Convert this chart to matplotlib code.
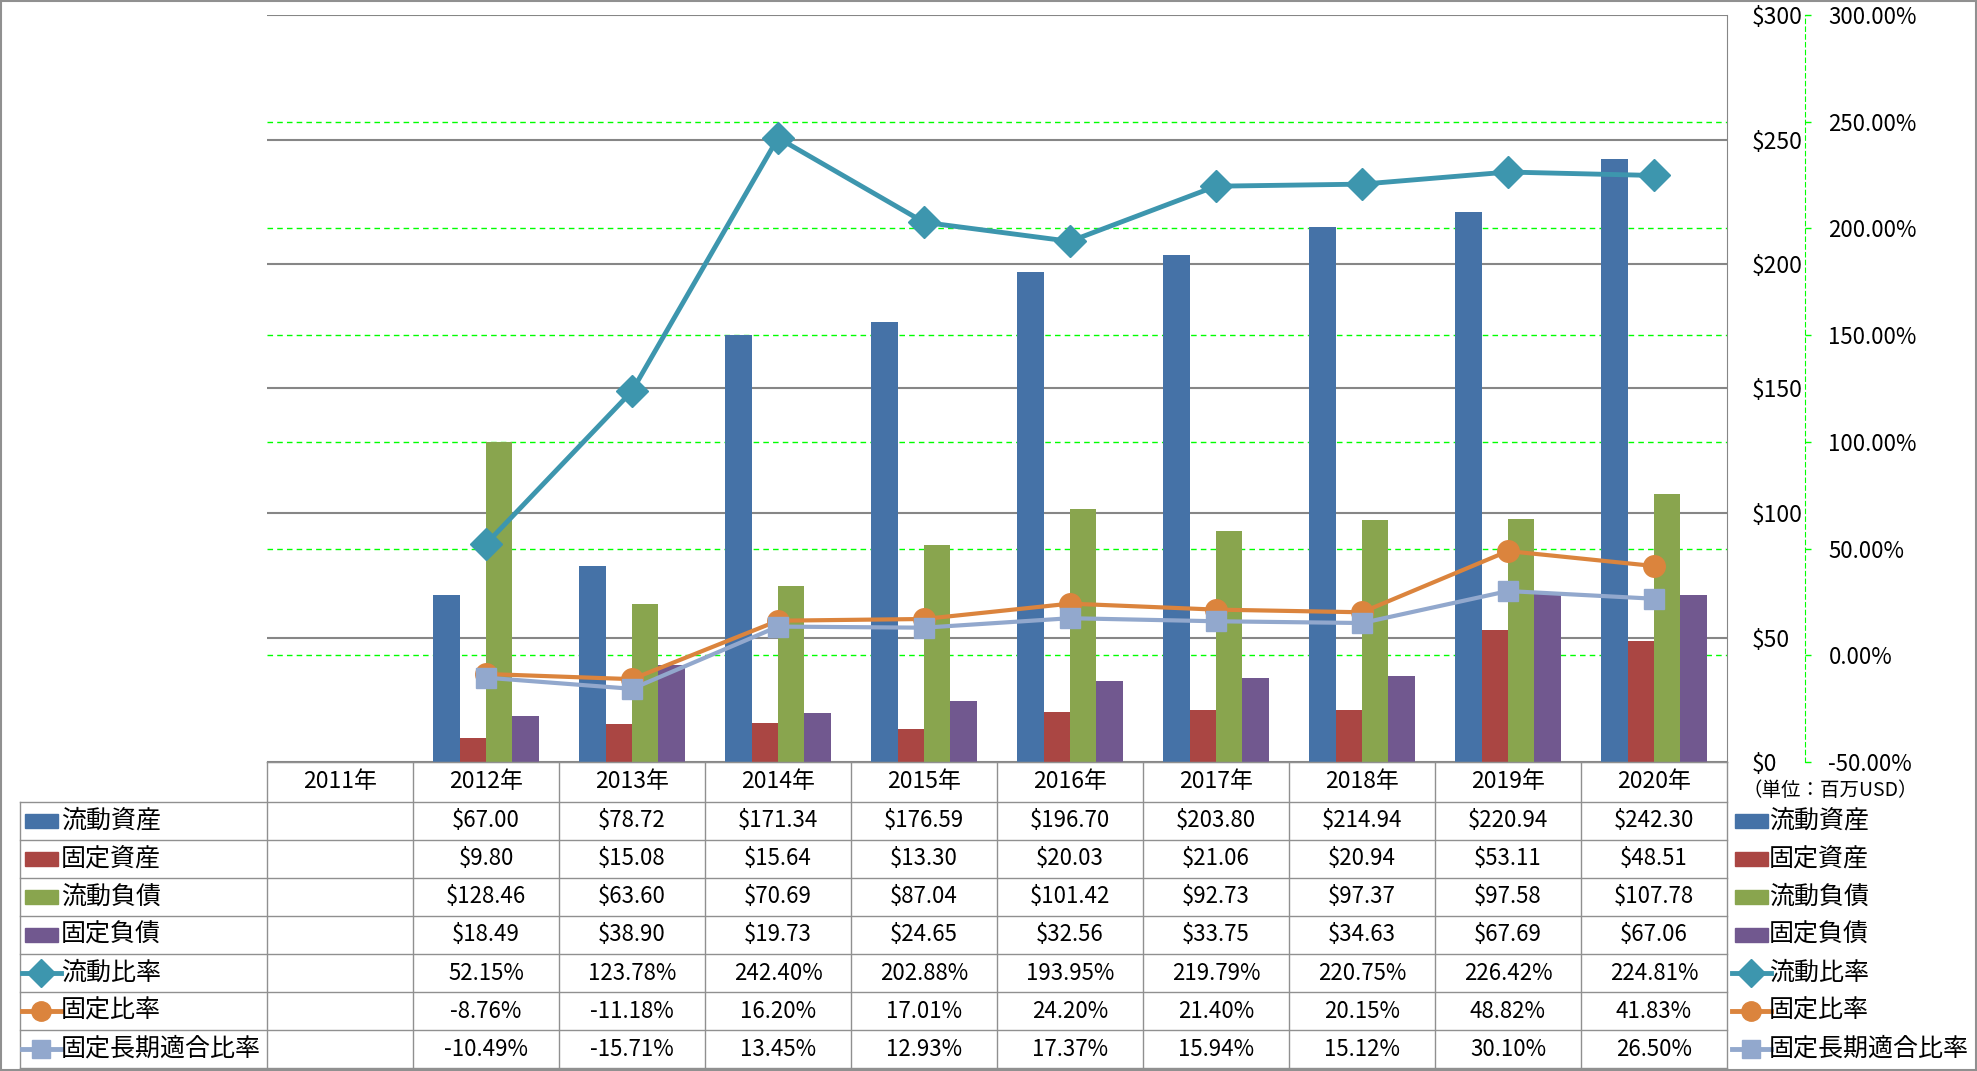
import matplotlib.pyplot as plt
import numpy as np
from matplotlib.patches import Rectangle

plt.rcParams['font.family'] = ['Noto Sans CJK JP', 'DejaVu Sans']

# data (百万USD / %)
years = ['2011年', '2012年', '2013年', '2014年', '2015年', '2016年', '2017年', '2018年', '2019年', '2020年']
current_assets = [np.nan, 67.00, 78.72, 171.34, 176.59, 196.70, 203.80, 214.94, 220.94, 242.30]
fixed_assets = [np.nan, 9.80, 15.08, 15.64, 13.30, 20.03, 21.06, 20.94, 53.11, 48.51]
current_liab = [np.nan, 128.46, 63.60, 70.69, 87.04, 101.42, 92.73, 97.37, 97.58, 107.78]
fixed_liab = [np.nan, 18.49, 38.90, 19.73, 24.65, 32.56, 33.75, 34.63, 67.69, 67.06]
current_ratio = [np.nan, 52.15, 123.78, 242.40, 202.88, 193.95, 219.79, 220.75, 226.42, 224.81]
fixed_ratio = [np.nan, -8.76, -11.18, 16.20, 17.01, 24.20, 21.40, 20.15, 48.82, 41.83]
fixed_lt_ratio = [np.nan, -10.49, -15.71, 13.45, 12.93, 17.37, 15.94, 15.12, 30.10, 26.50]

bar_series = [('流動資産', current_assets, '#4572A7'),
              ('固定資産', fixed_assets, '#AA4643'),
              ('流動負債', current_liab, '#89A54E'),
              ('固定負債', fixed_liab, '#71588F')]
line_series = [('流動比率', current_ratio, '#3D96AE', 'D', 16, 3.5),
               ('固定比率', fixed_ratio, '#DB843D', 'o', 15.5, 3),
               ('固定長期適合比率', fixed_lt_ratio, '#92A8CD', 's', 15, 3)]

W, H = 1977, 1071
fig = plt.figure(figsize=(W / 100, H / 100), dpi=100)

px_left, px_right, px_top, px_bottom = 267, 1727, 15, 762
ax = fig.add_axes([px_left / W, 1 - px_bottom / H, (px_right - px_left) / W, (px_bottom - px_top) / H])
x = np.arange(len(years))
bw = 0.18
for i, (name, vals, col) in enumerate(bar_series):
    ax.bar(x + (i - 1.5) * bw, vals, bw, color=col, zorder=2)

ax.set_xlim(-0.5, len(years) - 0.5)
ax.set_ylim(0, 300)
ax.set_xticks([])
ax.yaxis.grid(True, color='#868686', lw=1.5, zorder=0)
ax.set_axisbelow(True)
for s in ['left', 'top']:
    ax.spines[s].set_visible(False)
ax.spines['right'].set_color('#868686')
ax.spines['bottom'].set_color('#868686')

# secondary axis for ratios
ax2 = ax.twinx()
ax2.set_ylim(-50, 300)
pticks = list(range(-50, 301, 50))
ax2.set_yticks(pticks)
ax2.set_yticklabels(['%.2f%%' % v for v in pticks])
ax2.get_yticklabels()[0].set_color('red')
ax2.tick_params(axis='y', length=4, width=1, color='#00FF00', pad=13, labelsize=16)
for s in ['left', 'top', 'bottom']:
    ax2.spines[s].set_visible(False)
ax2.spines['right'].set_position(('outward', 56))
ax2.spines['right'].set_color('#00FF00')
ax2.spines['right'].set_linestyle((0, (4, 3)))
ax2.set_xticks([])

# primary $ labels on the right (after twinx, which moves them left)
ax.set_yticks(range(0, 301, 50))
ax.set_yticklabels(['$%d' % v for v in range(0, 301, 50)])
ax.yaxis.tick_right()
ax.tick_params(axis='y', length=0, pad=18, labelsize=16.5)

# secondary gridlines drawn behind the bars
for p in pticks[1:-1]:
    ax.axhline((p + 50) * 300 / 350, color='#00FF00', lw=1, ls=(0, (4, 3)), zorder=0.5)

for name, vals, col, mk, ms, lw in line_series:
    ax2.plot(x, vals, color=col, lw=lw, marker=mk, ms=ms, zorder=3)

# data table
tab = fig.add_axes([0, 0, 1, 1])
tab.set_xlim(0, W)
tab.set_ylim(H, 0)
tab.axis('off')
gc = '#909090'
col_edges = [px_left + i * (px_right - px_left) / len(years) for i in range(len(years) + 1)]
row_edges = [762, 802, 840, 878, 916, 954, 992, 1030, 1068]
tab_left = 20

tab.plot([px_left, px_right], [row_edges[0]] * 2, color=gc, lw=1)
for y in row_edges[1:]:
    tab.plot([tab_left, px_right], [y, y], color=gc, lw=1)
for xe in col_edges:
    tab.plot([xe, xe], [row_edges[0], row_edges[-1]], color=gc, lw=1)
tab.plot([tab_left, tab_left], [row_edges[1], row_edges[-1]], color=gc, lw=1)

centers = [(col_edges[i] + col_edges[i + 1]) / 2 for i in range(len(years))]
for cx, yr in zip(centers, years):
    tab.text(cx, (row_edges[0] + row_edges[1]) / 2, yr, ha='center', va='center', fontsize=16.5)

rows = [(n, v, '$%.2f', c, None, None) for n, v, c in bar_series] + \
       [(n, v, '%.2f%%', c, mk, ms) for n, v, c, mk, ms, lw in line_series]


def draw_key(x0, yc, col, mk, ms):
    if mk is None:
        tab.add_patch(Rectangle((x0, yc - 7), 33, 14, color=col))
    else:
        tab.plot([x0 - 3, x0 + 36], [yc, yc], color=col, lw=3.5)
        tab.plot([x0 + 16], [yc], marker=mk, color=col, ms=ms * 0.9)


for r, (name, vals, fmt, col, mk, ms) in enumerate(rows):
    yc = (row_edges[r + 1] + row_edges[r + 2]) / 2
    draw_key(25, yc, col, mk, ms)
    tab.text(61, yc, name, ha='left', va='center', fontsize=18)
    draw_key(1735, yc, col, mk, ms)
    tab.text(1769, yc, name, ha='left', va='center', fontsize=18)
    for cx, v in zip(centers, vals):
        if not np.isnan(v):
            tab.text(cx, yc, fmt % v, ha='center', va='center', fontsize=16)

tab.text(1743, 790, '（単位：百万USD）', ha='left', va='center', fontsize=14)
tab.add_patch(Rectangle((0.5, 0.5), W - 1.5, H - 1.5, fill=False, edgecolor='#909090', lw=1.5))

fig.savefig('out.png', dpi=100)
